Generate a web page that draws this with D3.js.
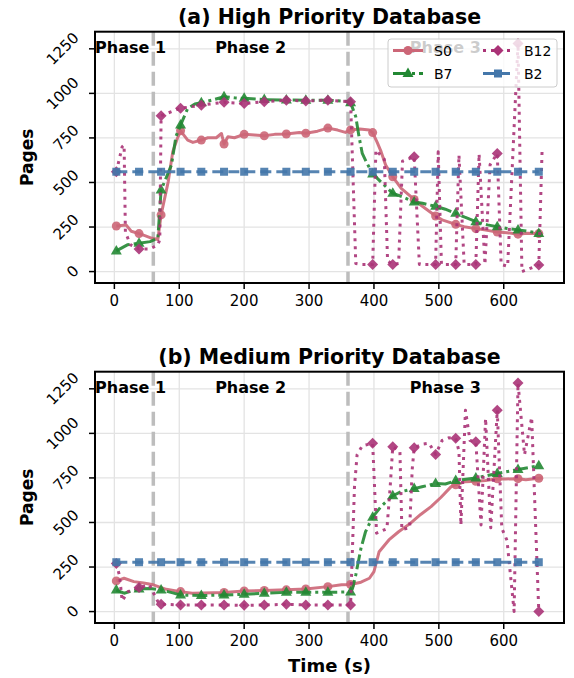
<!DOCTYPE html>
<html>
<head>
<meta charset="utf-8">
<script src="https://cdn.jsdelivr.net/npm/d3@7"></script>
<style>
  body { margin: 0; background: #fff; }
  svg { font-family: "DejaVu Sans", sans-serif; }
</style>
</head>
<body>
<div id="chart"></div>
<script>
// sample times where markers are drawn (every ~10th sample)
const markTimes = [3, 38, 72, 102, 134, 169, 200, 231, 265, 295, 329, 364, 398, 429, 462, 495, 526, 557, 590, 622, 654];

const seriesNames = ["S0", "B7", "B12", "B2"];
const phaseBounds = [60, 360];
const phaseNames = ["Phase 1", "Phase 2", "Phase 3"];
const phaseMids = [25, 210, 510];
const phaseLabelY = 1260;
const xTicks = [0, 100, 200, 300, 400, 500, 600];
const yTicks = [0, 250, 500, 750, 1000, 1250];

// (a) High priority database  [time (s), pages]
const s0A = [[3,256],[18,262],[26,226],[38,213],[47,202],[57,188],[67,180],[72,318],[83,505],[90,673],[97,747],[102,790],[113,738],[121,725],[134,738],[144,751],[157,751],[165,775],[169,716],[175,757],[185,751],[200,770],[216,766],[231,762],[247,770],[265,772],[285,781],[295,776],[313,788],[329,805],[344,794],[356,781],[364,795],[378,800],[393,794],[398,780],[405,725],[411,673],[418,598],[429,532],[442,467],[462,405],[472,374],[495,312],[505,290],[526,265],[539,252],[557,241],[570,234],[590,222],[605,218],[622,210],[636,215],[654,213],[660,215]];
const b7A = [[3,116],[20,150],[38,159],[55,168],[67,187],[72,458],[88,598],[95,760],[102,822],[113,916],[124,940],[134,948],[150,962],[169,981],[185,975],[200,972],[231,965],[265,963],[295,962],[329,962],[360,955],[364,948],[372,869],[377,757],[382,663],[388,617],[398,548],[413,495],[429,439],[444,420],[462,390],[475,383],[495,366],[510,350],[526,327],[540,305],[557,280],[575,262],[590,252],[605,242],[622,234],[640,225],[654,213]];
const b12A = [[3,560],[12,700],[15,710],[17,220],[25,150],[38,127],[55,127],[67,150],[70,180],[72,875],[90,900],[102,916],[134,934],[169,950],[200,943],[231,953],[265,962],[295,957],[329,962],[364,953],[372,45],[380,40],[398,40],[403,682],[416,630],[421,60],[429,40],[438,45],[444,620],[462,645],[470,40],[495,40],[499,672],[504,40],[526,40],[531,654],[539,40],[557,40],[562,660],[571,40],[579,600],[590,663],[596,40],[606,30],[622,1280],[628,0],[654,37],[659,672]];
const b2A = [[3,560],[38,560],[72,560],[102,560],[134,560],[169,560],[200,560],[231,560],[265,560],[295,560],[329,560],[364,560],[398,560],[429,560],[462,560],[495,560],[526,560],[557,560],[590,560],[622,560],[654,560]];

// (b) Medium priority database
const s0B = [[3,172],[15,187],[30,168],[45,160],[60,150],[80,125],[102,112],[120,103],[169,107],[200,116],[231,118],[265,122],[295,127],[329,140],[350,150],[364,152],[380,165],[393,187],[400,224],[408,336],[423,402],[438,448],[456,495],[472,545],[488,589],[503,640],[519,701],[526,712],[541,729],[557,731],[572,735],[590,745],[603,744],[622,746],[634,740],[654,748],[660,751]];
const b7B = [[3,121],[15,103],[38,127],[55,130],[72,121],[90,105],[102,93],[134,90],[169,93],[200,97],[231,103],[265,108],[295,108],[329,108],[364,110],[367,130],[372,206],[380,355],[387,448],[398,530],[411,590],[429,650],[442,673],[462,690],[474,700],[495,719],[510,716],[526,735],[557,750],[590,775],[622,797],[654,818]];
const b12B = [[3,270],[8,200],[12,60],[21,112],[38,135],[54,150],[67,56],[72,41],[102,37],[134,37],[169,37],[200,35],[231,37],[265,41],[295,37],[329,37],[364,37],[370,700],[374,880],[382,930],[398,944],[404,440],[420,465],[425,700],[429,925],[440,900],[443,460],[455,470],[459,800],[462,919],[475,940],[485,945],[495,882],[505,960],[515,975],[526,972],[531,900],[534,486],[541,1130],[548,960],[557,953],[565,486],[572,1084],[580,470],[590,1130],[597,467],[605,400],[616,0],[622,1282],[632,880],[643,1090],[654,0]];
const b2B = [[3,277],[38,277],[72,277],[102,277],[134,277],[169,277],[200,277],[231,277],[265,277],[295,277],[329,277],[364,277],[398,277],[429,277],[462,277],[495,277],[526,277],[557,277],[590,277],[622,277],[654,277]];

const styles = [
  { color: "#CC6677", dash: null, marker: "circle" },
  { color: "#228833", dash: "15,4,3,4", marker: "triangle" },
  { color: "#AA3377", dash: "3,5", marker: "diamond" },
  { color: "#4477AA", dash: "11,5", marker: "square" }
];
const markerPath = {
  circle: "M4.5,0A4.5,4.5 0 1,1 -4.5,0A4.5,4.5 0 1,1 4.5,0Z",
  triangle: "M0,-6L5.5,3.5L-5.5,3.5Z",
  diamond: "M0,-5.5L5.5,0L0,5.5L-5.5,0Z",
  square: "M-4,-4H4V4H-4Z"
};

const panels = [
  { title: "(a) High Priority Database", top: 31.7, data: [s0A, b7A, b12A, b2A], legend: true },
  { title: "(b) Medium Priority Database", top: 371.7, data: [s0B, b7B, b12B, b2B], legend: false }
];

const left = 95, right = 564, plotH = 251.3;

// same limits for both panels, with matplotlib style 5% padding
let allPts = panels.flatMap(p => p.data.flat());
let tExt = d3.extent(allPts, d => d[0]);
let vExt = d3.extent(allPts, d => d[1]);
let tPad = (tExt[1] - tExt[0]) * 0.05, vPad = (vExt[1] - vExt[0]) * 0.05;

let x = d3.scaleLinear().domain([tExt[0] - tPad, tExt[1] + tPad]).range([left, right]);

let svg = d3.select("#chart").append("svg")
    .attr("width", 574)
    .attr("height", 678);

panels.forEach((p, pi) => {
  let y = d3.scaleLinear().domain([vExt[0] - vPad, vExt[1] + vPad]).range([p.top + plotH, p.top]);
  let g = svg.append("g");
  let clipId = "clip" + pi;
  g.append("clipPath").attr("id", clipId)
    .append("rect").attr("x", left).attr("y", p.top).attr("width", right - left).attr("height", plotH);

  // grid
  g.selectAll(".gx").data(xTicks).join("line")
    .attr("x1", d => x(d)).attr("x2", d => x(d))
    .attr("y1", p.top).attr("y2", p.top + plotH)
    .attr("stroke", "#e3e3e3").attr("stroke-width", 1.3);
  g.selectAll(".gy").data(yTicks).join("line")
    .attr("x1", left).attr("x2", right)
    .attr("y1", d => y(d)).attr("y2", d => y(d))
    .attr("stroke", "#e3e3e3").attr("stroke-width", 1.3);

  // phase boundaries
  g.selectAll(".phase").data(phaseBounds).join("line")
    .attr("x1", d => x(d)).attr("x2", d => x(d))
    .attr("y1", p.top).attr("y2", p.top + plotH)
    .attr("stroke", "#bdbdbd").attr("stroke-width", 3.5)
    .attr("stroke-dasharray", "14,6");

  // series
  let line = d3.line().x(d => x(d[0])).y(d => y(d[1]));
  let plot = g.append("g").attr("clip-path", "url(#" + clipId + ")");
  p.data.forEach((pts, si) => {
    let st = styles[si];
    plot.append("path")
      .attr("d", line(pts))
      .attr("fill", "none")
      .attr("stroke", st.color)
      .attr("stroke-width", 3)
      .attr("stroke-opacity", 0.9)
      .attr("stroke-linejoin", "round")
      .attr("stroke-dasharray", st.dash);
    plot.selectAll(".m" + si).data(pts.filter(d => markTimes.includes(d[0]))).join("path")
      .attr("d", markerPath[st.marker])
      .attr("transform", d => "translate(" + x(d[0]) + "," + y(d[1]) + ")")
      .attr("fill", st.color)
      .attr("fill-opacity", 0.9);
  });

  // phase labels
  g.selectAll(".plabel").data(phaseNames).join("text")
    .attr("x", (d, i) => x(phaseMids[i]))
    .attr("y", y(phaseLabelY))
    .attr("text-anchor", "middle")
    .attr("dominant-baseline", "central")
    .attr("font-size", 16)
    .attr("font-weight", "bold")
    .text(d => d);

  // frame
  g.append("rect")
    .attr("x", left).attr("y", p.top)
    .attr("width", right - left).attr("height", plotH)
    .attr("fill", "none").attr("stroke", "#000").attr("stroke-width", 2);

  // x ticks
  g.selectAll(".xt").data(xTicks).join("line")
    .attr("x1", d => x(d)).attr("x2", d => x(d))
    .attr("y1", p.top + plotH).attr("y2", p.top + plotH + 6)
    .attr("stroke", "#000").attr("stroke-width", 1.5);
  g.selectAll(".xl").data(xTicks).join("text")
    .attr("x", d => x(d))
    .attr("y", p.top + plotH + 18)
    .attr("text-anchor", "middle")
    .attr("dominant-baseline", "central")
    .attr("font-size", 15)
    .text(d => d);

  // y ticks, labels rotated 45 degrees
  g.selectAll(".yt").data(yTicks).join("line")
    .attr("x1", left - 6).attr("x2", left)
    .attr("y1", d => y(d)).attr("y2", d => y(d))
    .attr("stroke", "#000").attr("stroke-width", 1.5);
  g.selectAll(".yl").data(yTicks).join("text")
    .attr("text-anchor", "middle")
    .attr("dominant-baseline", "central")
    .attr("font-size", 15)
    .text(d => d)
    .attr("transform", function(d) {
      let w = this.getComputedTextLength();
      let bw = (w + 11) * Math.SQRT1_2;
      return "translate(" + (80 - bw / 2) + "," + y(d) + ") rotate(-45)";
    });

  g.append("text")
    .attr("transform", "translate(27," + (p.top + plotH / 2) + ") rotate(-90)")
    .attr("text-anchor", "middle")
    .attr("dominant-baseline", "central")
    .attr("font-size", 17)
    .attr("font-weight", "bold")
    .text("Pages");

  g.append("text")
    .attr("x", (left + right) / 2)
    .attr("y", p.top - 15)
    .attr("text-anchor", "middle")
    .attr("dominant-baseline", "central")
    .attr("font-size", 20.5)
    .attr("font-weight", "bold")
    .text(p.title);

  if (pi == 1) {
    g.append("text")
      .attr("x", (left + right) / 2)
      .attr("y", p.top + plotH + 42)
      .attr("text-anchor", "middle")
      .attr("dominant-baseline", "central")
      .attr("font-size", 18)
      .attr("font-weight", "bold")
      .text("Time (s)");
  }

  if (p.legend) {
    let lg = g.append("g");
    lg.append("rect")
      .attr("x", 388).attr("y", 39).attr("width", 169).attr("height", 48)
      .attr("rx", 3)
      .attr("fill", "#fff").attr("fill-opacity", 0.8)
      .attr("stroke", "#cccccc").attr("stroke-width", 1);
    // column-wise order like matplotlib ncol=2
    let slots = [[393, 50.5], [393, 73.5], [483, 50.5], [483, 73.5]];
    seriesNames.forEach((name, si) => {
      let st = styles[si];
      let [lx, ly] = slots[si];
      lg.append("line")
        .attr("x1", lx).attr("x2", lx + 30)
        .attr("y1", ly).attr("y2", ly)
        .attr("stroke", st.color).attr("stroke-width", 3)
        .attr("stroke-dasharray", st.dash);
      lg.append("path")
        .attr("d", markerPath[st.marker])
        .attr("transform", "translate(" + (lx + 15) + "," + ly + ")")
        .attr("fill", st.color);
      lg.append("text")
        .attr("x", lx + 41).attr("y", ly)
        .attr("dominant-baseline", "central")
        .attr("font-size", 14)
        .text(name);
    });
  }
});
</script>
</body>
</html>
